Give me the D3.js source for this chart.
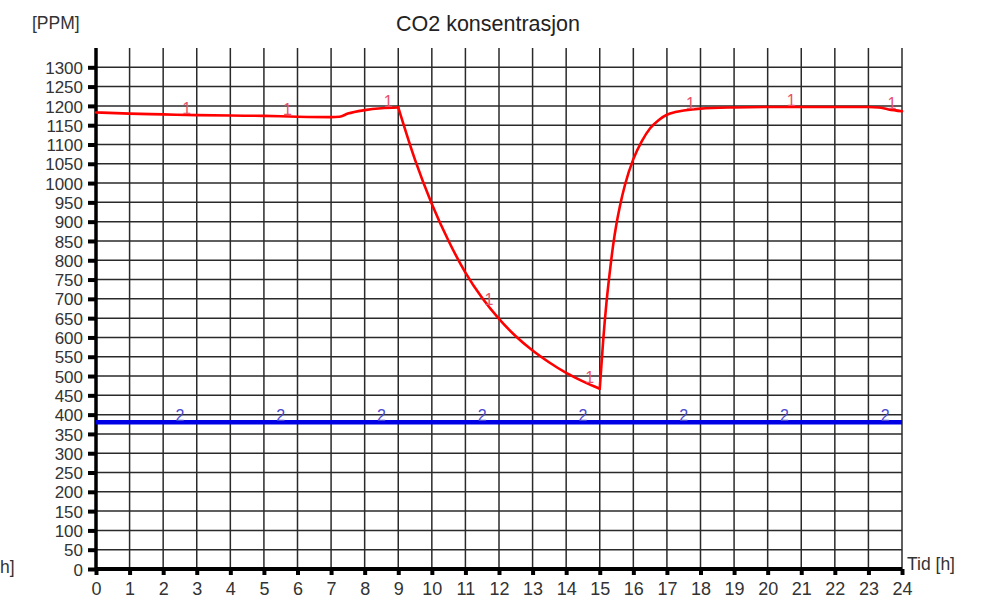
<!DOCTYPE html>
<html>
<head>
<meta charset="utf-8">
<script src="https://cdn.jsdelivr.net/npm/d3@7"></script>
<style>
  html, body { margin: 0; padding: 0; background: #fff; }
  svg { display: block; font-family: "Liberation Sans", Arial, sans-serif; }
</style>
</head>
<body>
<svg id="chart" width="983" height="598"></svg>
<script>
// CO2 concentration over a day (series 1) and outdoor reference level (series 2)
const hours = [0, 1, 2, 3, 4, 5, 6, 7, 7.25, 7.5, 8, 8.5, 9,
  9.5, 10, 10.5, 11, 11.5, 12, 12.5, 13, 13.5, 14, 14.5, 15,
  15.1, 15.2, 15.3, 15.4, 15.5, 15.6, 15.75, 16, 16.25, 16.5, 16.75, 17, 17.25, 17.5,
  18, 19, 20, 21, 22, 23, 23.3, 23.6, 24];
const co2Indoor = [1183, 1180, 1178, 1176, 1175, 1174, 1172, 1171, 1172, 1180, 1189, 1194, 1196,
  1060, 946, 850, 768, 702, 648, 603, 566, 535, 508, 486, 467,
  590, 690, 770, 840, 895, 940, 995, 1062, 1108, 1142, 1163, 1177, 1184, 1188,
  1193, 1196, 1197, 1197, 1197, 1197, 1196, 1191, 1186];
// hours where the ventilation regime switches (sharp corners in the curve)
const breakHours = [9, 15];

const outdoorHours = [0, 24];
const co2Outdoor = [380, 380];

// curve-number markers along each line
const label1Hours = [2.7, 5.7, 8.7, 11.7, 14.7, 17.7, 20.7, 23.7];
const label2Hours = [2.5, 5.5, 8.5, 11.5, 14.5, 17.5, 20.5, 23.5];

const xTicks = d3.range(0, 25, 1);
const yTicks = d3.range(0, 1301, 50);

const title = "CO2 konsentrasjon";
const yUnit = "[PPM]";
const xUnit = "Tid [h]";
const leftCutLabel = "h]";

const svg = d3.select("#chart");
const plotLeft = 96, plotRight = 902, plotTop = 48, plotBottom = 569;

const x = d3.scaleLinear().domain([0, 24]).range([plotLeft, plotRight]);
const y = d3.scaleLinear().domain([0, 1350]).range([plotBottom, plotTop]);

// grid
const grid = svg.append("g").attr("stroke", "#2a2a2a").attr("stroke-width", 1.5);
grid.selectAll("line.v").data(xTicks.slice(1)).join("line")
  .attr("x1", d => x(d)).attr("x2", d => x(d))
  .attr("y1", plotTop).attr("y2", plotBottom);
grid.selectAll("line.h").data(yTicks.slice(1)).join("line")
  .attr("x1", plotLeft).attr("x2", plotRight)
  .attr("y1", d => y(d)).attr("y2", d => y(d));

// axes
const xAxis = d3.axisBottom(x).tickValues(xTicks).tickSize(6).tickPadding(7).tickFormat(d3.format("d"));
const yAxis = d3.axisLeft(y).tickValues(yTicks).tickSize(8).tickPadding(5).tickFormat(d3.format("d"));

const gx = svg.append("g").attr("transform", `translate(0,${plotBottom})`).call(xAxis);
const gy = svg.append("g").attr("transform", `translate(${plotLeft},0)`).call(yAxis);

[gx, gy].forEach(g => {
  g.select(".domain").remove();
  g.selectAll(".tick line").attr("stroke", "#000").attr("stroke-width", 4);
  g.selectAll(".tick text").attr("fill", "#333")
    .style("font-family", "'Liberation Sans', Arial, sans-serif");
});
gx.selectAll(".tick text").style("font-size", "18px");
gy.selectAll(".tick text").style("font-size", "17px").attr("dy", "0.36em");

// thick axis lines
svg.append("line").attr("x1", plotLeft).attr("x2", plotLeft).attr("y1", plotTop).attr("y2", plotBottom + 1)
  .attr("stroke", "#000").attr("stroke-width", 3.5);
svg.append("line").attr("x1", plotLeft - 1).attr("x2", plotRight).attr("y1", plotBottom).attr("y2", plotBottom)
  .attr("stroke", "#000").attr("stroke-width", 4);

// series
const line = d3.line().x(d => x(d[0])).y(d => y(d[1])).curve(d3.curveMonotoneX);
const s1 = hours.map((h, i) => [h, co2Indoor[i]]);
const s2 = outdoorHours.map((h, i) => [h, co2Outdoor[i]]);

// split series 1 at the regime switches so the corners stay sharp
const cuts = [hours[0], ...breakHours, hours[hours.length - 1]];
const segments = d3.pairs(cuts).map(([a, b]) => s1.filter(d => d[0] >= a && d[0] <= b));

svg.append("path").datum(s2).attr("d", line)
  .attr("fill", "none").attr("stroke", "#0000e6").attr("stroke-width", 4.5);
svg.append("g").selectAll("path").data(segments).join("path")
  .attr("d", line)
  .attr("fill", "none").attr("stroke", "#ff0000").attr("stroke-width", 2.6)
  .attr("stroke-linejoin", "round").attr("stroke-linecap", "round");

// curve markers
const interp1 = h => {
  const i = d3.bisectRight(hours, h);
  if (i <= 0) return co2Indoor[0];
  if (i >= hours.length) return co2Indoor[co2Indoor.length - 1];
  const t = (h - hours[i - 1]) / (hours[i] - hours[i - 1]);
  return co2Indoor[i - 1] + t * (co2Indoor[i] - co2Indoor[i - 1]);
};
svg.append("g").selectAll("text").data(label1Hours).join("text")
  .attr("x", d => x(d)).attr("y", d => y(interp1(d)) - 1)
  .attr("text-anchor", "middle").attr("fill", "#e8506a")
  .style("font-size", "16px").text("1");
svg.append("g").selectAll("text").data(label2Hours).join("text")
  .attr("x", d => x(d)).attr("y", y(co2Outdoor[0]) - 1)
  .attr("text-anchor", "middle").attr("fill", "#4a4ad0")
  .style("font-size", "16px").text("2");

// titles
svg.append("text").attr("x", 488).attr("y", 31).attr("text-anchor", "middle")
  .attr("fill", "#222").style("font-size", "21.5px").text(title);
svg.append("text").attr("x", 32).attr("y", 29)
  .attr("fill", "#333").style("font-size", "17.5px").text(yUnit);
svg.append("text").attr("x", 907).attr("y", 570)
  .attr("fill", "#333").style("font-size", "17.5px").text(xUnit);
svg.append("text").attr("x", 0).attr("y", 573)
  .attr("fill", "#333").style("font-size", "17.5px").text(leftCutLabel);
</script>
</body>
</html>
